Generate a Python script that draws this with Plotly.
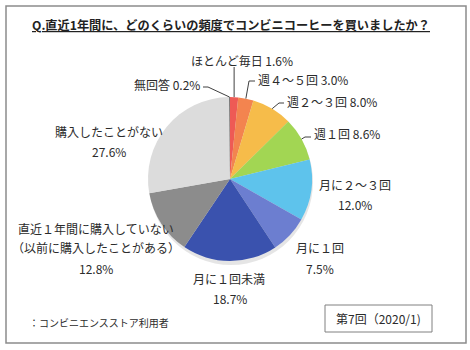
import math
import plotly.graph_objects as go

# ---- data ----
labels = ["ほとんど毎日", "週４～５回", "週２～３回", "週１回", "月に２～３回",
          "月に１回", "月に１回未満", "直近１年間に購入していない（以前に購入したことがある）",
          "購入したことがない", "無回答"]
values = [1.6, 3.0, 8.0, 8.6, 12.0, 7.5, 18.7, 12.8, 27.6, 0.2]
colors = ["#EE5A55", "#F3844F", "#F6BC4A", "#A2D653", "#5EC3EC",
          "#6C7ED0", "#3A52AE", "#8C8C8C", "#DCDCDC", "#7A7A7A"]

title_text = "Q.直近1年間に、どのくらいの頻度でコンビニコーヒーを買いましたか？"
note_text = "：コンビニエンスストア利用者"
box_text = "第7回（2020/1)"

W, H = 470, 350
CX, CY, R = 230, 179, 82
FONT = "Noto Sans CJK JP"
TXT = "#2b2b2b"

def px(x):
    return x / W

def py(y):
    return 1 - y / H

fig = go.Figure()
fig.add_trace(go.Pie(
    labels=labels, values=values, sort=False, direction="clockwise", rotation=0,
    marker=dict(colors=colors, line=dict(width=0)),
    textinfo="none", hoverinfo="label+percent", showlegend=False,
    domain=dict(x=[px(CX - R), px(CX + R)], y=[py(CY + R), py(CY - R)]),
))

# mid-angle edge points computed from data
total = sum(values)
cum = 0
edges = []
for v in values:
    mid = (cum + v / 2) / total * 2 * math.pi
    edges.append((CX + R * math.sin(mid), CY - R * math.cos(mid)))
    cum += v

fmt = lambda v: f"{v:.1f}%"

annotations = []
shapes = []

# soft shadow under pie
shapes.append(dict(type="circle", xref="paper", yref="paper", layer="below",
                   x0=px(CX - R + 1), x1=px(CX + R + 1), y0=py(CY + R + 4), y1=py(CY - R + 2),
                   fillcolor="rgba(0,0,0,0.10)", line=dict(width=0)))

def add_text(text, x, y, xanchor="center", size=12):
    annotations.append(dict(text=text, x=px(x), y=py(y), xref="paper", yref="paper",
                            xanchor=xanchor, yanchor="middle", showarrow=False,
                            font=dict(family=FONT, size=size, color=TXT)))

def leader(i, pts):
    path_pts = [edges[i]] + pts
    d = "M " + " L ".join(f"{px(x)},{py(y)}" for x, y in path_pts)
    shapes.append(dict(type="path", xref="paper", yref="paper", path=d,
                       line=dict(color="#404040", width=1)))

# labels with leader lines
add_text(f"{labels[0]} {fmt(values[0])}", 242, 60)
leader(0, [(edges[0][0], 67)])
add_text(f"{labels[1]} {fmt(values[1])}", 256, 80, "left")
leader(1, [(249, 81), (255, 81)])
add_text(f"{labels[2]} {fmt(values[2])}", 285, 101, "left")
leader(2, [(279, 103), (284, 103)])
add_text(f"{labels[3]} {fmt(values[3])}", 312, 134, "left")
leader(3, [(305, 137), (311, 137)])
add_text(f"{labels[9]} {fmt(values[9])}", 202, 84, "right")
leader(9, [(208, 87), (203, 87)])

# two-line labels
add_text(labels[4], 355, 184)
add_text(fmt(values[4]), 355, 204)
add_text(labels[5], 320, 248)
add_text(fmt(values[5]), 320, 268)
add_text(labels[6], 229, 278)
add_text(fmt(values[6]), 230, 298)
add_text("直近１年間に購入していない", 96, 228)
add_text("（以前に購入したことがある）", 96, 248)
add_text(fmt(values[7]), 96, 268)
add_text(labels[8], 109, 131)
add_text(fmt(values[8]), 109, 151)

# title
annotations.append(dict(text=f"<b><u>{title_text}</u></b>", x=px(231), y=py(25),
                        xref="paper", yref="paper", xanchor="center", yanchor="middle",
                        showarrow=False, font=dict(family=FONT, size=12.2, color="#222222")))
# note
add_text(note_text, 27, 322, "left", size=10)
# box
shapes.append(dict(type="rect", xref="paper", yref="paper",
                   x0=px(325), x1=px(432), y0=py(332), y1=py(305),
                   line=dict(color="#808080", width=1), fillcolor="white"))
add_text(box_text, 378, 318, size=12)
# outer frame
shapes.append(dict(type="rect", xref="paper", yref="paper",
                   x0=px(6), x1=px(466), y0=py(343), y1=py(6),
                   line=dict(color="#8C8C8C", width=1.5)))

fig.update_layout(width=W, height=H, margin=dict(l=0, r=0, t=0, b=0),
                  paper_bgcolor="white", plot_bgcolor="white",
                  annotations=annotations, shapes=shapes)
fig.write_html("out.html")
